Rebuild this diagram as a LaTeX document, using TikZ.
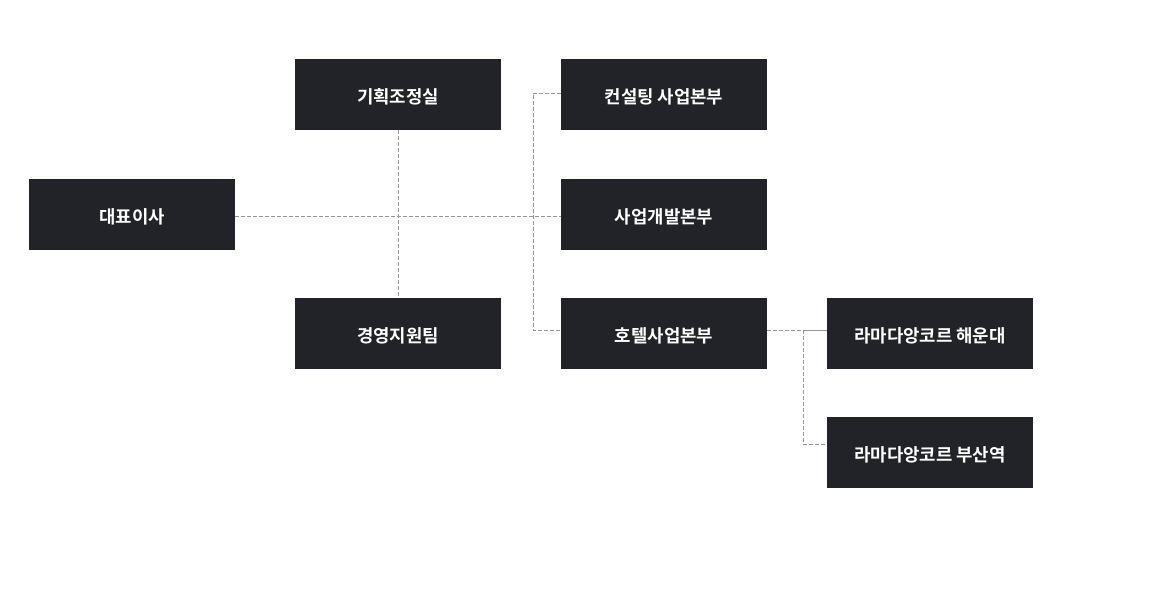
\documentclass[tikz,border=0pt]{standalone}
\usepackage{fontspec}
\newfontfamily\kr{Noto Sans CJK KR}[BoldFont={Noto Sans CJK KR Bold}]
\usetikzlibrary{positioning}
\definecolor{kasten}{RGB}{34,35,40}
\definecolor{strich}{RGB}{150,150,150}
\tikzset{
  orgbox/.style={fill=kasten, text=white, minimum width=206pt, minimum height=71pt,
    inner sep=0pt, text height=17pt, text depth=0pt,
    font=\kr\bfseries\fontsize{17.8}{19}\selectfont},
  orgline/.style={strich, line width=1pt, dash pattern=on 4pt off 2pt}
}

\begin{document}
\begin{tikzpicture}[x=1pt,y=-1pt]

    \useasboundingbox (0,0) rectangle (1160,600);

    % Spalte 1
    \node[orgbox] (ceo) at (132,214.5) {대표이사};

    % Spalte 2
    \node[orgbox] (plan) at (398,94.5) {기획조정실};
    \node[orgbox] (support) at (398,333.5) {경영지원팀};

    % Spalte 3
    \node[orgbox] (consult) at (664,94.5) {컨설팅 사업본부};
    \node[orgbox] (develop) at (664,214.5) {사업개발본부};
    \node[orgbox] (hotel) at (664,333.5) {호텔사업본부};

    % Spalte 4
    \node[orgbox] (haeundae) at (930,333.5) {라마다앙코르 해운대};
    \node[orgbox] (busan) at (930,452.5) {라마다앙코르 부산역};

    % Anschlusspunkte
    \coordinate (ceo-out) at ([yshift=-1.5pt]ceo.east);
    \coordinate (develop-in) at ([yshift=-1.5pt]develop.west);
    \coordinate (consult-in) at ([yshift=1.5pt]consult.west);
    \coordinate (hotel-in) at ([yshift=3.5pt]hotel.west);
    \coordinate (hotel-out) at ([yshift=3.5pt]hotel.east);
    \coordinate (haeundae-in) at ([yshift=3.5pt]haeundae.west);
    \coordinate (busan-in) at ([yshift=8.5pt]busan.west);
    \coordinate (bus) at (533,214.5);
    \coordinate (hub) at (803,390);

    \draw[orgline] (ceo-out) -- (develop-in);
    \draw[orgline] (plan.south) -- (support.north);
    \draw[orgline] (consult-in) -| (bus) |- (hotel-in);
    \draw[orgline] (hotel-out) -- (haeundae-in);
    \draw[orgline] (haeundae-in) -| (hub) |- (busan-in);

\end{tikzpicture}
\end{document}
